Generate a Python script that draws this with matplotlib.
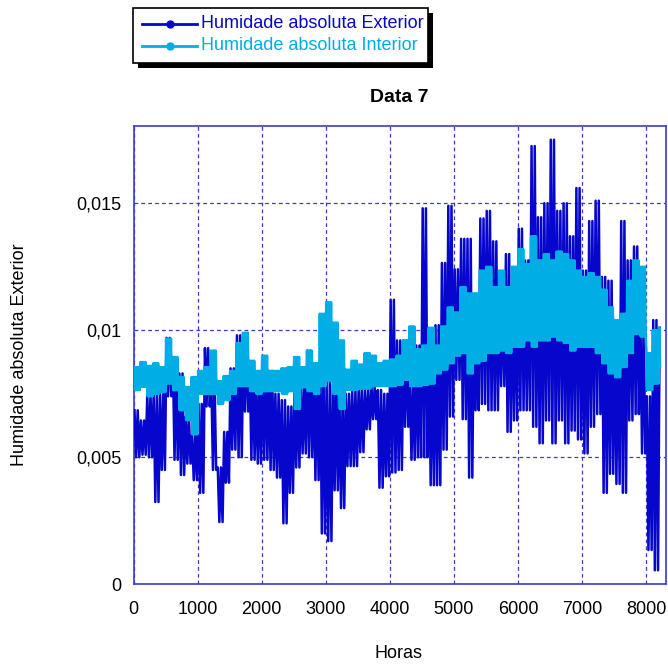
import numpy as np
import matplotlib
matplotlib.use("Agg")
import matplotlib.pyplot as plt
from matplotlib.patches import Rectangle
from matplotlib.lines import Line2D

plt.rcParams['font.family'] = ['Liberation Sans', 'DejaVu Sans']

# ---- data, per 100-hour segment, units 1e-3 kg/kg ----
seg_hours = list(range(0, 8300, 100))  # segment starts 0..8200

ext_hi = [6.85, 6.45, 7.5, 7.6, 7.5, 9.7, 8.8, 8.3, 6.6, 5.9,
          7.1, 9.3, 8.0, 4.6, 6.0, 8.5, 9.8, 9.7, 8.6, 7.9,
          8.95, 8.4, 7.5, 7.25, 7.0, 7.8, 7.9, 9.2, 8.4, 8.8,
          8.0, 8.2, 7.4, 7.5, 7.65, 7.8, 7.65, 7.8, 7.65, 7.5,
          11.2, 9.6, 9.6, 8.05, 9.4, 14.8, 9.4, 10.2, 12.65, 14.9,
          12.4, 13.6, 13.6, 10.9, 14.4, 14.7, 13.5, 11.7, 13.0, 11.8,
          14.0, 12.75, 17.25, 14.45, 15.0, 17.5, 14.7, 15.0, 13.7, 15.6,
          12.35, 14.3, 15.1, 12.1, 11.95, 10.4, 14.3, 12.75, 13.3, 10.4,
          7.4, 10.4, 10.1]
ext_lo = [5.0, 5.1, 5.0, 3.24, 4.5, 7.4, 4.9, 4.3, 4.75, 4.1,
          3.6, 7.0, 4.5, 2.45, 4.0, 5.3, 5.0, 6.8, 4.9, 4.75,
          4.9, 4.5, 4.2, 2.4, 3.6, 4.6, 5.15, 5.0, 4.1, 2.0,
          1.7, 3.7, 3.0, 4.65, 4.65, 5.2, 6.1, 6.5, 3.8, 4.25,
          4.4, 4.5, 6.2, 4.9, 5.0, 5.0, 3.9, 3.9, 5.3, 6.6,
          8.05, 6.5, 4.2, 6.85, 7.1, 6.85, 6.85, 7.8, 6.0, 6.45,
          6.85, 6.85, 6.2, 5.55, 6.45, 5.55, 6.45, 5.55, 6.05, 5.7,
          5.15, 6.2, 6.7, 3.6, 4.35, 3.95, 3.6, 6.45, 6.7, 5.15,
          1.35, 0.55, 8.0]

int_hi = [8.55, 8.75, 8.6, 8.7, 8.55, 9.67, 8.95, 8.16, 7.77, 8.16,
          8.4, 8.55, 9.2, 8.0, 8.2, 8.4, 9.5, 9.9, 8.8, 8.4,
          9.0, 8.4, 8.4, 8.5, 8.55, 8.95, 8.55, 9.2, 8.7, 10.65,
          11.1, 10.3, 9.6, 8.45, 8.8, 8.65, 9.1, 9.0, 8.7, 8.8,
          8.85, 9.0, 9.6, 10.15, 9.25, 9.4, 10.1, 9.4, 10.15, 10.9,
          10.7, 11.7, 11.45, 11.45, 12.35, 12.5, 11.7, 12.35, 11.7, 12.5,
          13.2, 12.6, 13.7, 12.75, 13.0, 12.75, 13.1, 13.0, 12.75, 12.35,
          12.1, 12.25, 12.1, 11.6, 10.9, 10.4, 10.65, 11.95, 12.75, 12.5,
          9.1, 10.0, 10.1]
int_lo = [7.64, 7.77, 7.4, 7.5, 7.57, 7.9, 7.64, 6.85, 6.46, 5.9,
          7.5, 7.5, 7.5, 7.1, 7.25, 7.5, 7.8, 7.8, 7.6, 7.5,
          7.6, 7.6, 7.6, 7.5, 7.6, 6.9, 7.75, 7.6, 7.5, 7.8,
          8.0, 7.5, 6.9, 7.65, 7.65, 7.7, 7.7, 7.8, 7.8, 7.8,
          7.8, 7.85, 8.05, 7.8, 7.8, 7.85, 7.9, 8.3, 8.45, 8.7,
          9.0, 9.1, 8.3, 8.7, 8.8, 9.1, 9.1, 9.2, 9.1, 9.35,
          9.35, 9.6, 9.35, 9.6, 9.6, 9.75, 9.6, 9.5, 9.2, 9.35,
          9.35, 9.35, 9.1, 8.7, 8.3, 8.15, 8.55, 9.1, 9.85, 9.75,
          7.65, 7.9, 8.55]

x_ticks = [0, 1000, 2000, 3000, 4000, 5000, 6000, 7000, 8000]
x_labels = ['0', '1000', '2000', '3000', '4000', '5000', '6000', '7000', '8000']
y_ticks = [0, 0.005, 0.01, 0.015]
y_labels = ['0', '0,005', '0,01', '0,015']

ext_name = 'Humidade absoluta Exterior'
int_name = 'Humidade absoluta Interior'
title = 'Data 7'
xlabel = 'Horas'
ylabel = 'Humidade absoluta Exterior'

C_EXT = '#0606CC'
C_INT = '#00ADE4'
C_GRID = '#3a3ad0'
X_END = 8230


def build(hi, lo, cycles):
    """Each 100 h segment swings between its read max and min `cycles` times."""
    xs, ys = [], []
    step = 100.0 / (2 * cycles)
    for s, h, l in zip(seg_hours, hi, lo):
        for k in range(cycles):
            xs += [s + (2 * k + 0.5) * step, s + (2 * k + 1.5) * step]
            ys += [h * 1e-3, l * 1e-3]
    xs = np.array(xs)
    ys = np.array(ys)
    keep = xs <= X_END
    return xs[keep], ys[keep]


xe, ye = build(ext_hi, ext_lo, 2)
xi, yi = build(int_hi, int_lo, 4)

W, H = 668, 664
fig = plt.figure(figsize=(W / 100, H / 100), dpi=100)
ax = fig.add_axes([133.7 / W, 1 - 584.3 / H, 532 / W, 458.3 / H])

ax.plot(xe, ye, color=C_EXT, lw=1.8, zorder=3)
ax.plot(xi, yi, color=C_INT, lw=1.8, zorder=4)

ax.set_xlim(0, 8307)
ax.set_ylim(0, 0.01804)
ax.set_xticks(x_ticks)
ax.set_xticklabels(x_labels)
ax.set_yticks(y_ticks)
ax.set_yticklabels(y_labels)
ax.tick_params(length=0, labelsize=13, colors='black')
ax.tick_params(axis='y', pad=9)
ax.tick_params(axis='x', pad=12)
ax.grid(True, color=C_GRID, lw=0.9, linestyle=(0, (3, 2.5)))
for sp in ax.spines.values():
    sp.set_color(C_GRID)
    sp.set_linewidth(1.2)

fig.text(399 / W, 1 - 97 / H, title, ha='center', va='center', fontsize=14, fontweight='bold')
fig.text(399 / W, 1 - 653 / H, xlabel, ha='center', va='center', fontsize=13)
fig.text(20 / W, 1 - 355 / H, ylabel, ha='center', va='center', fontsize=13, rotation=90)

# legend (manual, with solid shadow)
def px(x, y):
    return x / W, 1 - y / H

bx0, by0, bx1, by1 = 133, 8, 428, 63
fig.add_artist(Rectangle(px(bx0 + 5, by1 + 5), (bx1 - bx0) / W, (by1 - by0) / H,
                         transform=fig.transFigure, facecolor='black', edgecolor='none', zorder=10))
fig.add_artist(Rectangle(px(bx0, by1), (bx1 - bx0) / W, (by1 - by0) / H,
                         transform=fig.transFigure, facecolor='white', edgecolor='black', lw=1.2, zorder=11))
for yy, col, name in [(24, C_EXT, ext_name), (46, C_INT, int_name)]:
    x0, y0 = px(142, yy)
    x1, _ = px(197, yy)
    fig.add_artist(Line2D([x0, x1], [y0, y0], transform=fig.transFigure, color=col, lw=2, zorder=12))
    fig.add_artist(Line2D([(x0 + x1) / 2], [y0], transform=fig.transFigure, color=col,
                          marker='o', markersize=5, zorder=12))
    fig.text(201 / W, y0, name, color=col, fontsize=13, ha='left', va='center', zorder=13)

fig.savefig('out.png', dpi=100)
